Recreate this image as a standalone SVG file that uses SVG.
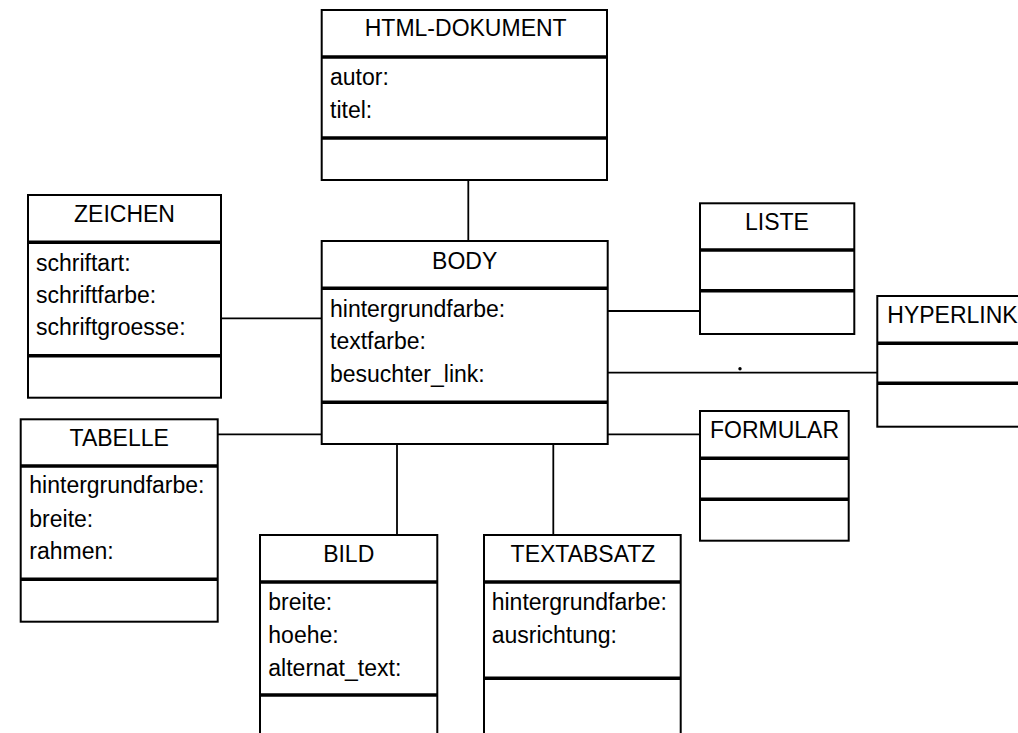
<svg xmlns="http://www.w3.org/2000/svg" width="1018" height="733" viewBox="0 0 1018 733">
<style>
.box{fill:#fff;stroke:#000;stroke-width:2}
.div{stroke:#000;stroke-width:3.5}
.con{stroke:#000;stroke-width:1.8;fill:none}
text{font-family:"Liberation Sans",Arial,sans-serif;font-size:23px;fill:#000}
.t{text-anchor:middle}
</style>
<rect width="1018" height="733" fill="#fff"/>
<g id="connectors">
<line class="con" x1="468.3" y1="180" x2="468.3" y2="241"/>
<line class="con" x1="221" y1="318.3" x2="321.7" y2="318.3"/>
<line class="con" x1="217.7" y1="434.3" x2="321.7" y2="434.3"/>
<line class="con" x1="607.7" y1="311" x2="700" y2="311"/>
<line class="con" x1="607.7" y1="372.7" x2="877.3" y2="372.7"/>
<line class="con" x1="607.7" y1="434.3" x2="700" y2="434.3"/>
<line class="con" x1="397" y1="444" x2="397" y2="535"/>
<line class="con" x1="553.3" y1="444" x2="553.3" y2="535"/>
<circle cx="740" cy="368.7" r="1.7" fill="#000"/>
</g>
<g id="html-dokument">
<rect class="box" x="321.7" y="10" width="285.3" height="170"/>
<line class="div" x1="321.7" y1="57" x2="607" y2="57"/>
<line class="div" x1="321.7" y1="138" x2="607" y2="138"/>
<text class="t" x="465.7" y="36">HTML-DOKUMENT</text>
<text x="330" y="85">autor:</text>
<text x="330" y="118">titel:</text>
</g>
<g id="zeichen">
<rect class="box" x="28" y="195" width="193" height="202.7"/>
<line class="div" x1="28" y1="242.3" x2="221" y2="242.3"/>
<line class="div" x1="28" y1="355.7" x2="221" y2="355.7"/>
<text class="t" x="124.5" y="221.7">ZEICHEN</text>
<text x="36" y="270.7">schriftart:</text>
<text x="36" y="302.7">schriftfarbe:</text>
<text x="36" y="335">schriftgroesse:</text>
</g>
<g id="body">
<rect class="box" x="321.7" y="241" width="286" height="203"/>
<line class="div" x1="321.7" y1="288.3" x2="607.7" y2="288.3"/>
<line class="div" x1="321.7" y1="402.3" x2="607.7" y2="402.3"/>
<text class="t" x="464.7" y="269">BODY</text>
<text x="330" y="316.7">hintergrundfarbe:</text>
<text x="330" y="349.3">textfarbe:</text>
<text x="330" y="381.7">besuchter_link:</text>
</g>
<g id="liste">
<rect class="box" x="700" y="203.3" width="154.3" height="130.7"/>
<line class="div" x1="700" y1="250" x2="854.3" y2="250"/>
<line class="div" x1="700" y1="290.7" x2="854.3" y2="290.7"/>
<text class="t" x="777" y="230">LISTE</text>
</g>
<g id="hyperlink">
<rect class="box" x="877.3" y="296" width="160" height="130.7"/>
<line class="div" x1="877.3" y1="343.3" x2="1040" y2="343.3"/>
<line class="div" x1="877.3" y1="383.3" x2="1040" y2="383.3"/>
<text x="887.3" y="322.7">HYPERLINK</text>
</g>
<g id="formular">
<rect class="box" x="700" y="411" width="148.7" height="129.7"/>
<line class="div" x1="700" y1="458.3" x2="848.7" y2="458.3"/>
<line class="div" x1="700" y1="499.3" x2="848.7" y2="499.3"/>
<text class="t" x="774.5" y="438.3">FORMULAR</text>
</g>
<g id="tabelle">
<rect class="box" x="20.7" y="419.3" width="197" height="202.4"/>
<line class="div" x1="20.7" y1="466" x2="217.7" y2="466"/>
<line class="div" x1="20.7" y1="579.3" x2="217.7" y2="579.3"/>
<text class="t" x="119.2" y="446">TABELLE</text>
<text x="29.3" y="493.3">hintergrundfarbe:</text>
<text x="29.3" y="526.7">breite:</text>
<text x="29.3" y="559.3">rahmen:</text>
</g>
<g id="bild">
<rect class="box" x="260" y="535" width="177.3" height="220"/>
<line class="div" x1="260" y1="582" x2="437.3" y2="582"/>
<line class="div" x1="260" y1="695" x2="437.3" y2="695"/>
<text class="t" x="348.7" y="561.7">BILD</text>
<text x="268.3" y="610">breite:</text>
<text x="268.3" y="643.3">hoehe:</text>
<text x="268.3" y="676">alternat_text:</text>
</g>
<g id="textabsatz">
<rect class="box" x="484" y="535" width="196.7" height="220"/>
<line class="div" x1="484" y1="582" x2="680.7" y2="582"/>
<line class="div" x1="484" y1="678.3" x2="680.7" y2="678.3"/>
<text class="t" x="583" y="561.7">TEXTABSATZ</text>
<text x="491.7" y="610">hintergrundfarbe:</text>
<text x="491.7" y="643.3">ausrichtung:</text>
</g>
</svg>
